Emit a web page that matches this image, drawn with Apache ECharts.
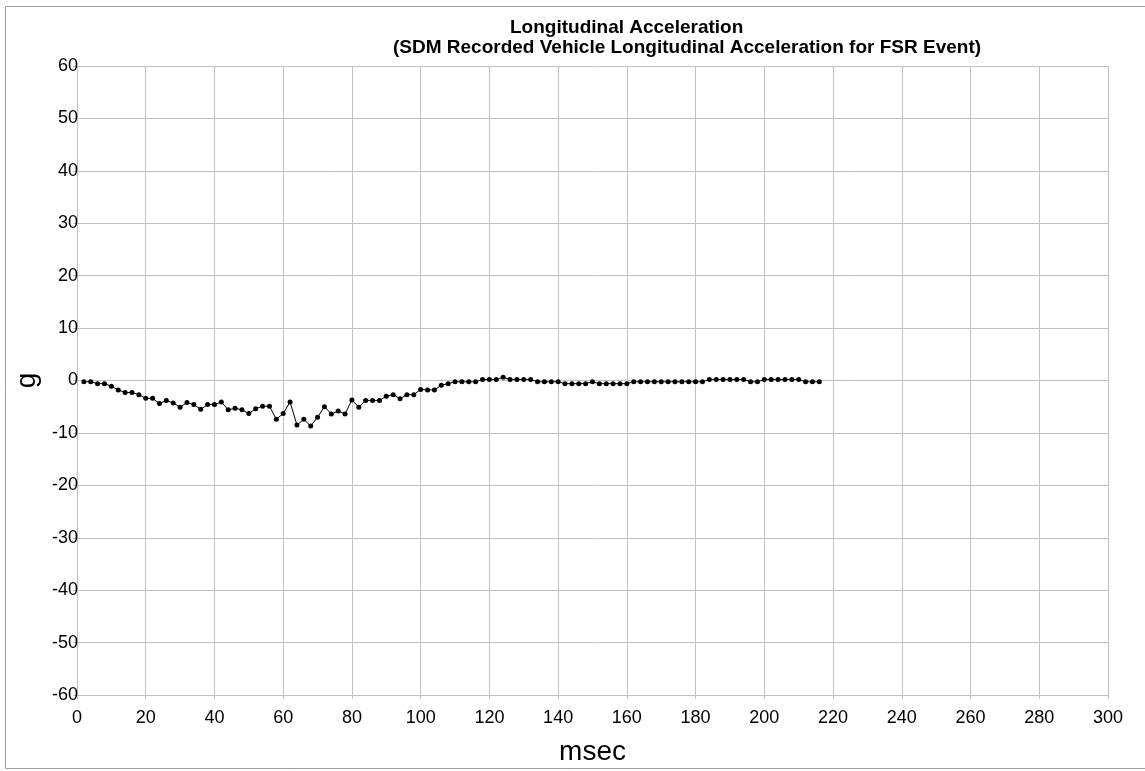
<!DOCTYPE html>
<html lang="en" style="height: 100%">
<head>
  <meta charset="utf-8">
  <title>longitudinal-acceleration</title>
</head>
<body style="height: 100%; margin: 0">
  <div id="container" style="width: 1145px;height: 771px"></div>

  <script type="text/javascript" src="https://cdn.jsdelivr.net/npm/echarts@6/dist/echarts.min.js"></script>

  <script type="text/javascript">
    var dom = document.getElementById('container');
    var myChart = echarts.init(dom, null, {
      renderer: 'canvas',
      useDirtyRect: false
    });
    var option;

// time of each SDM sample (msec)
const timeMs = [
  2, 4, 6, 8, 10, 12, 14, 16, 18, 20, 22, 24, 26, 28, 30, 32, 34, 36, 38, 40,
  42, 44, 46, 48, 50, 52, 54, 56, 58, 60, 62, 64, 66, 68, 70, 72, 74, 76, 78, 80,
  82, 84, 86, 88, 90, 92, 94, 96, 98, 100, 102, 104, 106, 108, 110, 112, 114, 116, 118, 120,
  122, 124, 126, 128, 130, 132, 134, 136, 138, 140, 142, 144, 146, 148, 150, 152, 154, 156, 158, 160,
  162, 164, 166, 168, 170, 172, 174, 176, 178, 180, 182, 184, 186, 188, 190, 192, 194, 196, 198, 200,
  202, 204, 206, 208, 210, 212, 214, 216
];
// recorded longitudinal acceleration (g)
const accelG = [
  -0.25, -0.25, -0.6, -0.6, -1.1, -1.8, -2.3, -2.3, -2.7, -3.4, -3.4, -4.4, -3.8, -4.3, -5.1, -4.2, -4.6, -5.5, -4.6, -4.6,
  -4.1, -5.6, -5.3, -5.6, -6.3, -5.4, -4.9, -4.9, -7.4, -6.3, -4.1, -8.5, -7.4, -8.7, -7.0, -5.0, -6.4, -5.8, -6.4, -3.7,
  -5.1, -3.8, -3.8, -3.8, -3.0, -2.7, -3.5, -2.7, -2.7, -1.7, -1.8, -1.8, -0.9, -0.6, -0.25, -0.25, -0.25, -0.25, 0.2, 0.2,
  0.2, 0.6, 0.2, 0.2, 0.2, 0.2, -0.25, -0.25, -0.25, -0.25, -0.6, -0.6, -0.6, -0.6, -0.25, -0.6, -0.6, -0.6, -0.6, -0.6,
  -0.25, -0.25, -0.25, -0.25, -0.25, -0.25, -0.25, -0.25, -0.25, -0.25, -0.25, 0.2, 0.2, 0.2, 0.2, 0.2, 0.2, -0.25, -0.25, 0.2,
  0.2, 0.2, 0.2, 0.2, 0.2, -0.25, -0.25, -0.25
];
const xTicks = { min: 0, max: 300, interval: 20 };
const yTicks = { min: -60, max: 60, interval: 10 };

var points = timeMs.map(function (t, i) { return [t, accelG[i]]; });
var font = 'Liberation Sans, Arial, sans-serif';
var gridGray = '#c0c0c0';

option = {
  animation: false,
  backgroundColor: '#fff',
  textStyle: { fontFamily: font },
  title: [
    {
      text: 'Longitudinal Acceleration',
      left: 505,
      top: 13,
      textStyle: { fontFamily: font, fontSize: 19, fontWeight: 'bold', color: '#000' }
    },
    {
      text: '(SDM Recorded Vehicle Longitudinal Acceleration for FSR Event)',
      left: 388,
      top: 33,
      textStyle: { fontFamily: font, fontSize: 19, fontWeight: 'bold', color: '#000' }
    }
  ],
  graphic: [
    {
      type: 'rect',
      shape: { x: 5.5, y: 6.5, width: 1150, height: 762 },
      style: { fill: null, stroke: '#a0a0a0', lineWidth: 1 },
      silent: true
    }
  ],
  grid: { left: 77, right: 37, top: 66, bottom: 72 },
  xAxis: {
    type: 'value',
    min: xTicks.min,
    max: xTicks.max,
    interval: xTicks.interval,
    name: 'msec',
    nameLocation: 'middle',
    nameGap: 43,
    nameTextStyle: { fontFamily: font, fontSize: 28, color: '#000' },
    axisLine: { show: true, onZero: false, lineStyle: { color: gridGray } },
    axisTick: { show: true, length: 4, lineStyle: { color: gridGray } },
    axisLabel: { margin: 14, fontSize: 18, color: '#000', fontFamily: font },
    splitLine: { show: true, lineStyle: { color: gridGray, width: 1 } }
  },
  yAxis: {
    type: 'value',
    min: yTicks.min,
    max: yTicks.max,
    interval: yTicks.interval,
    name: 'g',
    nameLocation: 'middle',
    nameGap: 31,
    nameTextStyle: { fontFamily: font, fontSize: 28, color: '#000' },
    axisLine: { show: true, lineStyle: { color: gridGray } },
    axisTick: { show: true, length: 4, lineStyle: { color: gridGray } },
    axisLabel: { margin: -1, fontSize: 18, color: '#000', fontFamily: font },
    splitLine: { show: true, lineStyle: { color: gridGray, width: 1 } }
  },
  series: [
    {
      type: 'line',
      data: points,
      symbol: 'circle',
      symbolSize: 5,
      showAllSymbol: true,
      lineStyle: { color: '#000', width: 1 },
      itemStyle: { color: '#000' }
    }
  ]
};

    if (option && typeof option === 'object') {
      myChart.setOption(option);
    }

    window.addEventListener('resize', myChart.resize);
  </script>
</body>
</html>
